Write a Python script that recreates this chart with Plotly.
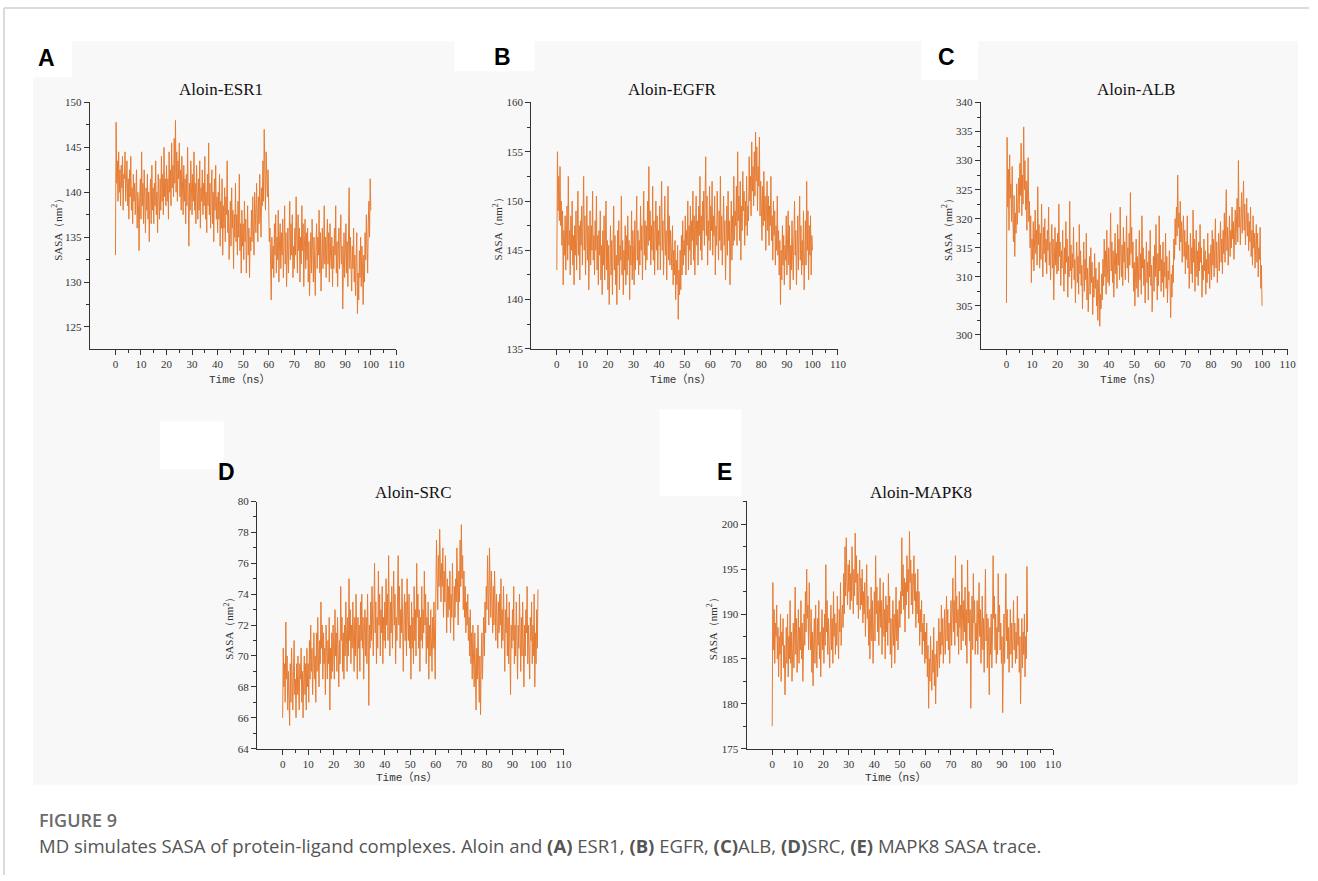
import plotly.graph_objects as go

W, H = 1318, 881

# ---------------- data (SASA, nm^2; sampled every 0.25 ns) ----------------
time_ns = [i * 0.25 for i in range(401)]

esr1 = [
    133.0, 147.8, 141.0, 143.5, 139.0, 144.5, 140.0, 142.5, 138.5, 143.0,
    140.5, 144.0, 138.0, 142.0, 141.5, 144.5, 139.0, 141.0, 143.5, 138.5,
    141.5, 137.0, 142.5, 139.5, 144.0, 138.0, 140.5, 136.5, 142.0, 139.0,
    141.0, 137.5, 139.5, 142.5, 136.0, 140.0, 138.5, 133.5, 139.5, 141.5,
    137.0, 144.5, 138.5, 141.0, 136.5, 142.5, 139.0, 135.5, 140.5, 138.0,
    142.0, 137.0, 140.0, 134.5, 139.5, 141.5, 136.5, 143.0, 138.0, 140.5,
    136.5, 141.0, 138.5, 143.5, 137.5, 140.0, 135.5, 142.0, 139.5, 137.0,
    141.5, 138.0, 144.0, 139.0, 142.0, 137.5, 145.0, 139.5, 141.5, 138.5,
    143.0, 139.0, 141.5, 137.0, 144.5, 140.0, 142.5, 138.5, 145.5, 140.5,
    143.0, 139.5, 146.0, 141.0, 148.0, 140.0, 144.5, 139.0, 143.5, 141.5,
    145.5, 139.5, 142.5, 138.0, 144.0, 140.5, 137.5, 143.0, 139.0, 141.5,
    136.5, 142.0, 138.5, 145.0, 139.5, 134.0, 141.0, 138.0, 143.5, 139.5,
    137.5, 142.0, 139.0, 144.5, 138.0, 141.0, 136.5, 143.0, 139.5, 137.0,
    141.5, 138.0, 143.5, 136.0, 140.5, 139.0, 142.5, 137.5, 141.0, 138.5,
    144.0, 137.0, 140.0, 135.5, 142.0, 138.5, 145.5, 137.5, 141.0, 136.0,
    139.5, 142.5, 136.5, 140.0, 134.5, 141.5, 138.0, 143.0, 137.0, 139.5,
    135.5, 140.0, 137.0, 142.0, 134.0, 139.0, 136.0, 141.5, 133.0, 138.5,
    136.0, 140.5, 134.5, 139.5, 137.5, 143.5, 135.5, 138.0, 132.5, 137.0,
    139.0, 134.0, 140.5, 136.0, 138.0, 131.5, 137.5, 135.0, 141.0, 134.5,
    137.5, 133.0, 139.0, 135.0, 142.0, 133.5, 136.5, 131.0, 138.0, 134.0,
    136.5, 132.5, 139.0, 134.5, 137.0, 131.0, 135.5, 138.5, 133.0, 136.0,
    130.5, 135.0, 133.5, 138.0, 134.5, 139.5, 136.0, 133.0, 140.0, 137.0,
    135.5, 141.0, 137.5, 134.5, 139.5, 136.5, 142.0, 138.0, 135.0, 140.5,
    138.5, 143.5, 139.0, 147.0, 140.5, 138.0, 144.5, 141.0, 139.5, 142.5,
    137.0, 134.5, 136.0, 132.0, 128.0, 135.0, 131.5, 134.0, 130.5, 136.5,
    133.0, 137.5, 131.0, 135.0, 132.5, 138.0, 130.0, 134.5, 136.5, 131.5,
    135.5, 133.0, 137.0, 130.5, 134.0, 138.5, 132.0, 135.5, 129.5, 133.5,
    136.0, 131.0, 134.5, 139.0, 132.5, 136.5, 133.0, 137.5, 130.5, 134.0,
    131.5, 136.0, 133.0, 139.5, 134.5, 131.0, 137.5, 133.5, 136.0, 130.0,
    135.0, 132.0, 138.5, 133.5, 136.5, 129.5, 134.0, 137.0, 131.5, 135.5,
    132.5, 136.0, 130.0, 134.5, 128.5, 133.0, 135.5, 131.0, 137.0, 133.5,
    130.0, 135.0, 132.5, 128.5, 134.0, 136.5, 131.5, 135.0, 133.0, 138.0,
    131.0, 135.5, 129.0, 134.0, 136.0, 131.5, 133.5, 138.5, 132.0, 135.0,
    130.5, 134.5, 137.0, 132.0, 135.5, 130.0, 136.5, 133.0, 131.5, 135.0,
    129.5, 134.0, 131.5, 136.0, 133.0, 138.5, 131.0, 134.5, 129.5, 133.5,
    136.0, 131.5, 135.0, 137.5, 132.0, 134.0, 127.0, 132.5, 135.5, 130.5,
    133.0, 136.5, 131.0, 134.5, 129.5, 133.5, 140.5, 131.5, 135.0, 132.0,
    129.0, 134.0, 131.5, 136.0, 130.0, 133.0, 128.5, 132.5, 135.5, 126.5,
    131.0, 128.0, 133.5, 130.5, 135.0, 129.5, 134.0, 131.5, 127.5, 133.0,
    130.0, 135.5, 132.5, 137.5, 134.0, 131.0, 136.5, 139.0, 135.0, 141.5,
    138.0,
]

egfr = [
    143.0, 155.0, 149.0, 152.5, 148.0, 153.5, 147.5, 150.0, 145.5, 149.0,
    141.5, 147.0, 144.5, 148.5, 143.0, 146.0, 149.5, 144.0, 152.5, 145.5,
    147.0, 142.5, 148.5, 145.0, 150.0, 143.5, 146.5, 141.5, 147.5, 144.5,
    149.0, 143.0, 146.0, 151.0, 144.5, 147.5, 142.0, 148.0, 145.5, 149.5,
    143.5, 147.0, 152.5, 145.0, 148.5, 142.5, 146.5, 150.5, 144.0, 147.5,
    141.0, 146.0, 149.0, 143.5, 147.5, 145.0, 151.0, 144.0, 146.5, 142.5,
    148.0, 145.0, 150.5, 143.0, 146.5, 141.5, 147.0, 144.5, 149.0, 142.0,
    145.5, 140.5, 147.0, 143.5, 148.5, 142.0, 145.0, 150.0, 143.0, 146.0,
    141.0, 145.5, 139.5, 144.0, 147.5, 142.5, 146.0, 140.5, 145.0, 149.5,
    143.0, 146.5, 141.5, 144.5, 139.5, 147.0, 143.5, 148.0, 141.0, 145.5,
    144.0, 150.5, 142.5, 146.0, 140.5, 145.0, 143.0, 147.5, 141.5, 146.5,
    142.5, 148.5, 144.0, 146.0, 140.0, 145.5, 143.5, 149.0, 142.0, 147.0,
    144.5, 141.5, 148.0, 143.0, 146.5, 150.5, 144.0, 147.0, 142.5, 146.0,
    143.5, 149.5, 145.0, 147.5, 142.0, 146.5, 151.0, 144.5, 148.0, 143.0,
    147.5, 144.0, 150.0, 145.5, 153.5, 146.0, 149.0, 143.5, 147.5, 145.0,
    151.5, 144.0, 148.0, 142.5, 146.5, 150.0, 145.0, 148.5, 143.0, 147.0,
    145.5, 149.5, 143.0, 147.5, 152.0, 145.0, 148.0, 142.5, 146.5, 150.5,
    144.5, 147.0, 142.0, 146.0, 151.5, 144.0, 148.5, 143.5, 147.0, 145.0,
    143.0, 147.5, 141.5, 145.0, 142.5, 146.0, 140.0, 144.0, 141.5, 145.5,
    138.0, 143.0, 140.5, 145.0, 141.0, 146.5, 142.5, 148.0, 143.5, 146.0,
    144.5, 148.5, 142.5, 147.0, 145.5, 150.0, 143.0, 147.5, 145.0, 149.5,
    143.5, 148.0, 146.0, 151.0, 144.0, 148.5, 142.5, 147.0, 150.5, 145.5,
    148.0, 143.5, 149.5, 146.5, 152.5, 145.0, 148.5, 144.0, 150.0, 147.0,
    151.0, 145.5, 149.0, 154.5, 146.5, 150.5, 143.5, 148.0, 146.0, 151.5,
    145.0, 149.5, 147.0, 152.0, 144.5, 148.5, 146.5, 150.5, 142.5, 147.5,
    145.5, 151.0, 147.5, 144.0, 149.0, 146.0, 152.5, 145.0, 148.5, 143.5,
    147.0, 150.5, 145.5, 148.0, 142.0, 146.5, 149.5, 144.5, 151.0, 146.0,
    148.0, 141.5, 146.5, 150.0, 144.0, 148.5, 145.5, 152.5, 146.0, 149.0,
    147.5, 151.5, 145.5, 155.0, 148.0, 150.5, 146.0, 152.0, 144.0, 149.5,
    147.0, 153.0, 149.0, 151.0, 145.5, 150.0, 147.5, 152.5, 146.5, 149.5,
    148.0, 154.5, 150.0, 152.5, 148.5, 156.0, 151.0, 153.5, 149.5, 155.0,
    150.5, 157.0, 152.0, 155.5, 149.0, 153.5, 151.5, 156.5, 148.5, 152.0,
    149.5, 146.0, 151.5, 147.5, 153.0, 148.0, 150.5, 145.0, 149.0, 152.0,
    147.0, 150.5, 145.5, 149.5, 147.5, 152.5, 146.0, 148.5, 144.0, 150.0,
    146.5, 149.0, 143.5, 147.5, 145.0, 150.5, 144.5, 147.0, 142.5, 146.0,
    139.5, 145.0, 142.0, 147.5, 143.5, 146.5, 141.5, 145.5, 144.0, 148.5,
    142.5, 146.0, 149.0, 143.5, 147.5, 141.0, 145.5, 143.0, 148.0, 144.5,
    142.0, 146.5, 150.0, 144.5, 147.0, 141.5, 145.0, 148.5, 143.0, 146.5,
    150.5, 144.0, 147.5, 142.5, 146.0, 143.5, 149.0, 141.0, 145.5, 148.0,
    143.5, 152.0, 145.0, 149.0, 142.0, 147.5, 144.5, 148.5, 142.5, 146.5,
    145.0,
]

alb = [
    305.5, 334.0, 322.0, 328.5, 318.0, 331.0, 323.5, 326.0, 319.5, 329.0,
    320.5, 316.0, 324.0, 313.5, 321.0, 317.5, 326.0, 319.0, 322.5, 327.0,
    321.0, 329.5, 324.0, 333.0, 320.5, 327.5, 322.5, 335.8, 325.0, 330.0,
    321.5, 326.5, 318.0, 324.0, 330.5, 319.5, 323.0, 315.0, 320.5, 309.0,
    316.5, 313.0, 319.5, 311.0, 317.0, 321.5, 314.0, 318.0, 312.0, 325.5,
    315.5, 319.0, 311.5, 317.5, 313.0, 322.5, 315.0, 310.0, 318.5, 314.0,
    320.0, 312.5, 316.5, 310.5, 318.0, 314.5, 322.0, 312.0, 316.0, 309.5,
    315.0, 319.0, 311.5, 316.5, 306.0, 314.0, 318.5, 312.0, 316.0, 310.5,
    317.5, 311.0, 322.5, 313.5, 316.0, 308.5, 314.5, 311.5, 318.0, 312.0,
    307.5, 315.0, 310.5, 319.5, 312.5, 316.5, 306.5, 313.5, 310.0, 323.0,
    311.0, 315.5, 308.0, 314.0, 311.5, 318.5, 309.5, 313.0, 305.5, 312.5,
    316.0, 309.0, 313.5, 307.0, 319.0, 310.5, 314.5, 308.5, 312.0, 304.5,
    311.0, 316.0, 307.5, 313.0, 309.5, 317.5, 306.0, 311.5, 304.0, 310.0,
    313.5, 307.0, 315.0, 309.0, 312.5, 303.5, 310.0, 306.5, 314.0, 308.0,
    311.5, 305.0, 309.5, 302.5, 308.0, 312.5, 301.5, 307.0, 304.5, 310.5,
    306.0, 313.0, 308.5, 316.5, 310.0, 314.5, 307.0, 318.0, 311.5, 309.0,
    315.0, 308.5, 313.5, 321.0, 311.0, 316.0, 309.0, 314.5, 306.5, 312.5,
    317.5, 310.5, 314.0, 308.0, 319.0, 312.0, 316.5, 309.5, 322.0, 313.5,
    310.0, 315.5, 308.5, 318.5, 312.5, 316.0, 309.5, 314.0, 320.5, 311.5,
    315.0, 309.0, 317.5, 312.0, 324.5, 314.0, 318.5, 311.5, 316.0, 307.5,
    312.5, 305.0, 310.5, 316.5, 308.0, 313.5, 306.5, 311.0, 318.0, 309.5,
    314.0, 307.0, 320.5, 311.5, 315.0, 308.5, 313.0, 305.5, 310.5, 316.0,
    309.0, 312.5, 306.0, 314.5, 310.0, 318.0, 308.5, 312.0, 304.0, 309.5,
    313.5, 307.5, 315.5, 310.0, 319.0, 311.5, 306.0, 314.0, 308.5, 320.5,
    311.0, 315.5, 307.5, 313.0, 309.0, 316.0, 306.5, 312.5, 310.0, 317.5,
    308.0, 313.5, 305.5, 311.0, 309.5, 314.5, 307.0, 303.0, 310.5, 306.5,
    312.0, 309.0, 316.5, 313.0, 320.0, 315.5, 322.0, 317.0, 327.5, 318.5,
    321.0, 314.5, 323.0, 316.0, 319.5, 312.5, 317.5, 320.5, 313.5, 318.0,
    310.5, 316.0, 313.0, 320.5, 311.5, 315.5, 308.0, 314.0, 317.5, 310.5,
    315.0, 309.0, 321.5, 312.5, 316.5, 307.5, 313.5, 318.0, 310.0, 314.5,
    308.5, 316.0, 311.0, 319.0, 312.5, 315.0, 306.5, 312.0, 309.5, 316.5,
    311.0, 314.5, 307.0, 313.0, 309.0, 317.5, 310.5, 314.0, 308.0, 312.5,
    315.5, 309.5, 318.0, 312.0, 316.5, 310.0, 314.5, 320.0, 311.5, 316.0,
    309.0, 313.5, 317.5, 311.0, 315.0, 319.5, 312.5, 316.5, 310.5, 318.0,
    314.0, 321.0, 312.5, 317.0, 325.0, 314.5, 318.5, 312.0, 316.5, 320.5,
    313.5, 318.0, 315.0, 322.0, 316.5, 319.5, 313.0, 317.5, 321.5, 315.5,
    319.0, 323.5, 316.0, 330.0, 318.5, 322.0, 315.5, 320.0, 324.5, 317.5,
    321.5, 326.5, 318.0, 322.5, 315.5, 320.0, 323.5, 317.0, 321.0, 314.5,
    319.5, 316.0, 322.0, 313.5, 318.0, 312.0, 320.5, 315.0, 317.5, 311.5,
    316.0, 319.0, 312.5, 317.5, 310.0, 315.0, 313.0, 318.5, 308.0, 312.0,
    305.0,
]

src = [
    66.0, 70.5, 68.0, 69.5, 67.0, 72.2, 68.5, 70.0, 66.5, 69.0,
    67.5, 65.5, 69.5, 67.0, 70.5, 68.0, 66.5, 69.0, 71.0, 67.5,
    68.5, 66.0, 69.5, 67.5, 70.0, 68.0, 66.5, 69.5, 68.5, 70.5,
    67.0, 69.0, 66.0, 68.5, 70.0, 67.5, 69.5, 66.5, 70.5, 68.0,
    69.5, 67.0, 71.0, 68.5, 72.0, 69.0, 70.5, 67.5, 69.0, 71.5,
    68.5, 70.0, 67.0, 71.5, 69.0, 72.5, 70.0, 68.0, 71.0, 69.5,
    73.5, 70.5, 72.0, 68.5, 71.5, 69.5, 70.5, 67.5, 72.0, 70.0,
    68.5, 71.0, 69.5, 72.5, 66.5, 70.5, 68.5, 71.5, 69.0, 72.0,
    70.5, 68.5, 73.0, 70.0, 71.5, 69.0, 72.5, 70.5, 68.0, 71.0,
    69.5, 74.5, 71.0, 72.5, 69.0, 71.5, 68.5, 72.0, 70.0, 73.5,
    71.5, 69.0, 72.5, 70.0, 75.0, 71.0, 73.0, 69.5, 72.0, 70.5,
    73.5, 71.0, 69.0, 72.5, 70.0, 74.0, 71.5, 68.5, 72.5, 70.5,
    72.0, 69.0, 73.5, 71.0, 74.0, 70.5, 72.5, 68.5, 71.5, 73.0,
    70.0, 72.5, 69.5, 74.0, 71.5, 66.8, 72.0, 70.5, 73.5, 71.0,
    74.5, 72.0, 70.0, 73.0, 76.0, 71.5, 73.5, 69.5, 72.5, 70.5,
    75.5, 72.0, 74.0, 70.0, 73.0, 71.5, 74.5, 69.5, 72.5, 71.0,
    73.5, 70.5, 75.0, 72.0, 74.0, 71.0, 76.5, 72.5, 70.0, 73.5,
    71.5, 74.5, 70.5, 73.0, 75.5, 72.0, 74.0, 69.5, 72.5, 71.0,
    73.5, 76.5, 72.0, 74.5, 70.5, 73.0, 71.5, 75.0, 72.0, 69.0,
    72.5, 74.0, 71.0, 73.5, 70.0, 75.0, 72.5, 71.0, 74.0, 70.5,
    72.0, 68.5, 73.5, 70.5, 72.5, 69.5, 74.5, 71.0, 73.0, 70.0,
    76.0, 72.5, 74.0, 70.5, 73.0, 69.0, 72.5, 71.0, 74.5, 70.5,
    73.0, 71.5, 75.5, 72.0, 74.0, 69.5, 72.5, 70.5, 73.5, 68.5,
    72.0, 70.0, 73.0, 71.0, 69.0, 72.5, 70.5, 73.5, 71.5, 68.5,
    74.0, 77.5, 75.0, 73.0, 76.5, 74.5, 78.2, 75.5, 73.5, 76.0,
    74.5, 77.0, 72.5, 75.5, 73.5, 76.5, 74.0, 71.5, 75.0, 72.5,
    74.5, 73.0, 75.5, 71.5, 74.0, 72.5, 76.0, 73.0, 71.0, 74.5,
    72.5, 75.0, 73.5, 77.0, 74.0, 72.0, 75.5, 73.5, 77.5, 74.5,
    78.5, 75.0, 76.5, 73.0, 75.5, 72.5, 74.5, 71.5, 73.5, 72.0,
    74.0, 71.0, 72.5, 70.0, 73.0, 69.5, 71.5, 68.5, 72.0, 70.0,
    68.0, 71.5, 69.0, 66.5, 70.5, 68.5, 72.0, 69.5, 67.0, 70.0,
    66.2, 69.5, 71.5, 68.5, 70.5, 72.5, 70.0, 73.5, 71.5, 74.5,
    73.0, 76.5, 74.0, 72.0, 77.0, 74.5, 72.5, 75.5, 73.0, 71.5,
    74.5, 72.0, 75.5, 73.0, 71.0, 74.0, 72.5, 70.5, 73.5, 71.5,
    74.0, 72.0, 75.0, 70.5, 73.0, 71.0, 74.5, 72.5, 69.0, 73.0,
    71.5, 74.0, 70.0, 72.5, 69.5, 73.5, 71.0, 67.5, 72.0, 70.5,
    73.0, 71.0, 74.5, 69.5, 72.0, 70.0, 73.5, 71.5, 68.5, 72.0,
    70.5, 74.0, 71.5, 69.0, 72.5, 70.0, 73.5, 71.0, 68.0, 72.0,
    70.0, 73.0, 71.5, 74.5, 69.5, 72.0, 70.5, 68.5, 72.5, 71.0,
    73.5, 69.5, 72.0, 70.0, 74.0, 68.0, 71.5, 69.5, 73.0, 70.5,
    74.3,
]

mapk8 = [
    177.5, 193.5, 186.0, 190.5, 184.5, 189.0, 187.5, 191.0, 185.0, 188.5,
    183.0, 187.5, 185.5, 190.0, 182.5, 188.0, 186.5, 189.5, 184.0, 186.5,
    181.0, 186.0, 188.5, 184.5, 190.0, 183.0, 187.5, 185.0, 191.5, 184.5,
    188.0, 182.5, 186.5, 189.0, 184.0, 187.0, 193.0, 185.5, 189.5, 183.5,
    187.0, 190.5, 184.5, 188.5, 186.0, 191.5, 185.0, 189.0, 182.5, 187.5,
    190.0, 186.5, 192.5, 188.0, 195.0, 189.5, 191.0, 186.0, 193.5, 188.5,
    186.0, 190.5, 183.5, 188.0, 182.0, 187.0, 189.5, 184.5, 191.0, 186.5,
    184.0, 189.5, 186.5, 191.5, 185.0, 188.0, 183.0, 187.5, 190.5, 186.0,
    188.5, 184.5, 190.0, 186.5, 195.5, 188.0, 191.5, 185.5, 189.5, 187.0,
    184.0, 188.5, 191.0, 186.0, 189.5, 184.5, 192.5, 187.5, 190.0, 185.5,
    189.0, 186.5, 192.0, 187.5, 185.0, 190.5, 188.0, 193.5, 186.5, 189.5,
    191.0, 188.5, 194.5, 190.0, 197.5, 192.0, 198.5, 193.5, 191.0, 195.5,
    192.5, 196.0, 190.5, 194.5, 191.5, 197.5, 193.0, 190.0, 195.0, 192.0,
    199.0, 193.5, 196.5, 191.0, 194.5, 189.5, 193.0, 196.0, 190.5, 194.0,
    191.0, 195.0, 189.0, 192.5, 190.0, 193.5, 187.5, 191.0, 195.5, 189.5,
    192.0, 186.5, 190.5, 185.0, 189.0, 193.0, 187.0, 191.5, 184.5, 189.5,
    192.5, 187.0, 196.5, 190.0, 193.0, 188.0, 191.5, 186.5, 190.5, 194.0,
    188.5, 191.5, 185.5, 189.5, 193.5, 187.5, 190.5, 185.0, 192.0, 188.0,
    191.0, 186.5, 194.5, 189.0, 192.0, 185.5, 189.5, 184.0, 188.0, 191.5,
    186.5, 190.0, 184.5, 189.0, 193.0, 187.0, 190.5, 186.0, 189.0, 191.5,
    188.5, 192.5, 190.0, 198.5, 192.0, 195.5, 190.5, 194.0, 188.0, 193.5,
    191.0, 196.5, 192.5, 195.0, 189.5, 199.2, 193.5, 196.0, 191.0, 194.5,
    190.0, 193.5, 196.5, 191.5, 194.5, 188.5, 192.5, 190.0, 195.0, 189.0,
    192.5, 186.5, 190.5, 188.0, 191.5, 185.5, 189.0, 187.0, 190.0, 184.5,
    188.0, 185.0, 189.0, 183.0, 186.5, 179.5, 185.0, 182.5, 187.5, 184.0,
    181.5, 186.0, 183.5, 188.5, 182.0, 185.5, 180.0, 184.5, 187.0, 183.0,
    186.5, 189.5, 184.0, 188.0, 185.5, 191.0, 186.5, 189.5, 184.5, 188.0,
    190.5, 185.5, 189.0, 192.0, 187.0, 190.5, 186.0, 189.0, 184.5, 188.5,
    191.5, 186.5, 190.0, 194.0, 188.0, 191.5, 186.5, 196.5, 189.0, 192.0,
    187.5, 190.5, 185.5, 192.5, 188.5, 191.0, 186.0, 195.5, 190.0, 187.0,
    191.5, 188.0, 193.0, 186.5, 190.5, 184.5, 196.0, 189.0, 192.5, 187.0,
    190.5, 179.5, 188.0, 192.0, 186.0, 194.5, 189.0, 191.5, 185.5, 189.0,
    187.0, 191.5, 185.5, 190.0, 193.5, 187.5, 190.5, 184.5, 188.5, 192.0,
    186.0, 189.5, 183.5, 188.0, 195.0, 187.0, 190.0, 184.0, 189.5, 186.5,
    181.0, 188.5, 185.5, 190.0, 184.0, 187.5, 196.5, 189.5, 192.0, 186.0,
    190.0, 184.5, 188.5, 185.5, 194.5, 188.0, 191.0, 186.0, 189.0, 184.5,
    187.5, 179.0, 186.0, 190.0, 184.5, 188.5, 194.5, 187.0, 190.5, 185.0,
    188.5, 183.5, 187.5, 190.5, 185.5, 189.0, 184.0, 187.0, 191.5, 186.0,
    189.0, 184.5, 188.0, 185.0, 192.0, 186.5, 189.5, 183.5, 187.5, 180.0,
    186.5, 189.5, 184.0, 188.0, 185.5, 190.0, 183.0, 187.5, 185.0, 195.3,
    188.0,
]

titles = ["Aloin-ESR1", "Aloin-EGFR", "Aloin-ALB", "Aloin-SRC", "Aloin-MAPK8"]
letters = ["A", "B", "C", "D", "E"]
series = [esr1, egfr, alb, src, mapk8]
x_ticks = [0, 10, 20, 30, 40, 50, 60, 70, 80, 90, 100, 110]
y_ticks = [
    [125, 130, 135, 140, 145, 150],
    [135, 140, 145, 150, 155, 160],
    [300, 305, 310, 315, 320, 325, 330, 335, 340],
    [64, 66, 68, 70, 72, 74, 76, 78, 80],
    [175, 180, 185, 190, 195, 200],
]

# ---------------- layout (pixel geometry of the target picture) ----------------
# small correction for the capture's scaling of the page
SX, OX = 0.994, 0.0
SY, OY = 0.9887, 5.6

def X(px):
    return ((px - OX) / SX) / W

def Y(py):
    return 1 - ((py - OY) / SY) / H

panels = [
    dict(xp=(90.0, 396.7), yp=(102.3, 349.3), yr=[122.56, 150], minor=2.5,
         title=(221, 89), ytitle=(57, 227), xtitle=(240, 380), letter=(47, 58)),
    dict(xp=(531.7, 838.7), yp=(102.3, 349.3), yr=[135, 160], minor=2.5,
         title=(673, 89), ytitle=(498, 227), xtitle=(682, 380), letter=(503, 57)),
    dict(xp=(981.7, 1288.7), yp=(102.3, 349.3), yr=[297.6, 340], minor=2.5,
         title=(1137, 89), ytitle=(948, 227), xtitle=(1132, 380), letter=(947, 57)),
    dict(xp=(257.3, 564.0), yp=(502.3, 750.0), yr=[64, 80], minor=1,
         title=(414, 493), ytitle=(229, 627), xtitle=(407, 779), letter=(227, 473)),
    dict(xp=(747.3, 1054.0), yp=(501.7, 750.0), yr=[175, 202.6], minor=2.5,
         title=(922, 493), ytitle=(713, 627), xtitle=(897, 779), letter=(725, 473)),
]

LINE_COLOR = "#E67C34"
AXIS_COLOR = "#333333"
TICK_FONT = dict(family="Liberation Serif", size=11, color="#333333")

fig = go.Figure()
layout = dict(
    width=W, height=H,
    margin=dict(l=0, r=0, t=0, b=0),
    paper_bgcolor="white",
    plot_bgcolor="rgba(0,0,0,0)",
    showlegend=False,
)

annotations = []
shapes = []

# page frame
shapes.append(dict(type="line", xref="paper", yref="paper", x0=X(4), x1=1.0, y0=Y(7.5), y1=Y(7.5),
                   line=dict(color="#cfcfcf", width=1.5), layer="below"))
shapes.append(dict(type="line", xref="paper", yref="paper", x0=X(4), x1=X(4), y0=Y(7.5), y1=0.0,
                   line=dict(color="#cfcfcf", width=1.5), layer="below"))
# grey figure background
shapes.append(dict(type="rect", xref="paper", yref="paper", x0=X(33), x1=X(1299), y0=Y(786), y1=Y(41),
                   fillcolor="#f8f8f8", line=dict(width=0), layer="below"))
# white label boxes
for (x0, y0, x1, y1) in [(33, 41, 72, 77), (455, 41, 535, 71), (922, 41, 979, 80),
                          (160, 422, 224, 470), (660, 410, 742, 497)]:
    shapes.append(dict(type="rect", xref="paper", yref="paper", x0=X(x0), x1=X(x1), y0=Y(y1), y1=Y(y0),
                       fillcolor="white", line=dict(width=0), layer="below"))

for i, (p, vals) in enumerate(zip(panels, series)):
    n = i + 1
    xa = "xaxis" if n == 1 else f"xaxis{n}"
    ya = "yaxis" if n == 1 else f"yaxis{n}"
    xr = "x" if n == 1 else f"x{n}"
    yr = "y" if n == 1 else f"y{n}"
    fig.add_trace(go.Scatter(x=time_ns, y=vals, mode="lines", xaxis=xr, yaxis=yr,
                             line=dict(color=LINE_COLOR, width=1.0), hoverinfo="skip"))
    layout[xa] = dict(
        domain=[X(p["xp"][0]), X(p["xp"][1])], anchor=yr, range=[-10, 110],
        tickmode="array", tickvals=x_ticks, ticktext=[str(v) for v in x_ticks],
        showline=True, linecolor=AXIS_COLOR, linewidth=1.3, ticks="outside", ticklen=5,
        tickwidth=1, tickcolor=AXIS_COLOR, showgrid=False, zeroline=False, tickfont=TICK_FONT,
        minor=dict(tickvals=[v + 5 for v in x_ticks[:-1]], ticklen=3, tickcolor=AXIS_COLOR,
                   ticks="outside", showgrid=False),
    )
    layout[ya] = dict(
        domain=[Y(p["yp"][1]), Y(p["yp"][0])], anchor=xr, range=p["yr"],
        tickmode="array", tickvals=y_ticks[i], ticktext=[str(v) for v in y_ticks[i]],
        showline=True, linecolor=AXIS_COLOR, linewidth=1.3, ticks="outside", ticklen=5,
        tickwidth=1, tickcolor=AXIS_COLOR, showgrid=False, zeroline=False, tickfont=TICK_FONT,
        minor=dict(dtick=p["minor"], tick0=y_ticks[i][0], ticklen=3, tickcolor=AXIS_COLOR,
                   ticks="outside", showgrid=False),
    )
    annotations.append(dict(text=titles[i], x=X(p["title"][0]), y=Y(p["title"][1]), xref="paper", yref="paper",
                            showarrow=False, xanchor="center", yanchor="middle",
                            font=dict(family="Liberation Serif", size=17, color="#111111")))
    annotations.append(dict(text="SASA（nm<sup>2</sup>）", x=X(p["ytitle"][0]), y=Y(p["ytitle"][1]),
                            xref="paper", yref="paper", showarrow=False, textangle=-90,
                            xanchor="center", yanchor="middle",
                            font=dict(family="Liberation Serif", size=11, color="#333333")))
    annotations.append(dict(text="Time（ns）", x=X(p["xtitle"][0]), y=Y(p["xtitle"][1]), xref="paper", yref="paper",
                            showarrow=False, xanchor="center", yanchor="middle",
                            font=dict(family="Liberation Mono, Noto Sans CJK SC", size=11, color="#333333")))
    annotations.append(dict(text="<b>" + letters[i] + "</b>", x=X(p["letter"][0]), y=Y(p["letter"][1]),
                            xref="paper", yref="paper", showarrow=False, xanchor="center", yanchor="middle",
                            font=dict(family="Liberation Sans", size=23, color="#000000")))

# caption
annotations.append(dict(text="FIGURE 9", x=X(37), y=Y(822), xref="paper", yref="paper", showarrow=False,
                        xanchor="left", yanchor="middle",
                        font=dict(family="Open Sans", size=18, color="#6b6b6b", weight=600)))
annotations.append(dict(text="MD simulates SASA of protein-ligand complexes. Aloin and <b>(A)</b> ESR1, <b>(B)</b> EGFR, "
                             "<b>(C)</b>ALB, <b>(D)</b>SRC, <b>(E)</b> MAPK8 SASA trace.",
                        x=X(37), y=Y(847), xref="paper", yref="paper", showarrow=False,
                        xanchor="left", yanchor="middle",
                        font=dict(family="Open Sans", size=18.55, color="#555555")))

layout["annotations"] = annotations
layout["shapes"] = shapes
fig.update_layout(**layout)
fig.write_html(
    "out.html",
    config={"displayModeBar": False},
    post_script=(
        "document.documentElement.style.margin='0';document.body.style.margin='0';"
        "document.body.style.overflow='hidden';"
        "var d=document.getElementById('{plot_id}');"
        "d.style.position='fixed';d.style.top='0px';d.style.left='0px';"
    ),
)
